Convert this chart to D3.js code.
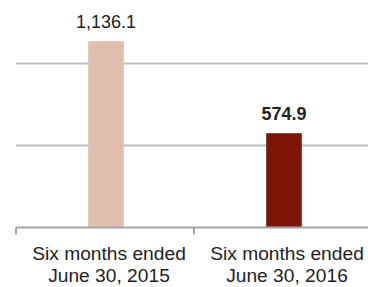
<!DOCTYPE html>
<html><head><meta charset="utf-8">
<script src="https://cdn.jsdelivr.net/npm/d3@7"></script>
<style>html,body{margin:0;padding:0;background:#fff;}svg{display:block;}</style>
</head><body>
<svg id="c" width="368" height="287"></svg>
<script>
const categories = ["Six months ended|June 30, 2015", "Six months ended|June 30, 2016"];
const values = [1136.1, 574.9];
const valueLabels = ["1,136.1", "574.9"];
const gridTicks = [500, 1000];
const colors = ["#e0bfaf", "#7b1607"];

const svg = d3.select("#c");
const x = d3.scaleBand().domain(categories).range([16, 372]).padding(0);
const y = d3.scaleLinear().domain([0, 1000]).range([227.5, 63.5]);
const barW = x.bandwidth() * 0.2;

svg.append("g").selectAll("line").data(gridTicks).join("line")
  .attr("x1", 16).attr("x2", 368)
  .attr("y1", d => y(d)).attr("y2", d => y(d))
  .attr("stroke", "#bfbec3").attr("stroke-width", 2);

svg.append("g").selectAll("rect").data(values).join("rect")
  .attr("x", (d, i) => x(categories[i]) + x.bandwidth() / 2 - barW / 2 + 1)
  .attr("width", barW)
  .attr("y", d => y(d))
  .attr("height", d => y(0) - y(d))
  .attr("fill", (d, i) => colors[i]);

// axis
const ax = svg.append("g");
ax.append("line").attr("x1", 16).attr("x2", 368).attr("y1", y(0)).attr("y2", y(0))
  .attr("stroke", "#a3a2a6").attr("stroke-width", 2);
ax.selectAll("line.t").data(categories).join("line").attr("class", "t")
  .attr("x1", d => x(d)).attr("x2", d => x(d))
  .attr("y1", y(0)).attr("y2", y(0) + 7)
  .attr("stroke", "#a3a2a6").attr("stroke-width", 2);

const lab = svg.append("g").selectAll("text").data(categories).join("text")
  .attr("text-anchor", "middle")
  .attr("font-family", "Liberation Sans, Arial, Helvetica, sans-serif")
  .attr("font-size", 19.2).attr("fill", "#222");
lab.each(function(d) {
  const parts = d.split("|");
  const t = d3.select(this);
  parts.forEach((p, k) => {
    t.append("tspan").attr("x", x(d) + x.bandwidth() / 2 + 4)
      .attr("y", 259.5 + k * 22.3).text(p);
  });
});

svg.append("g").selectAll("text").data(values).join("text")
  .attr("text-anchor", "middle")
  .attr("x", (d, i) => x(categories[i]) + x.bandwidth() / 2 + 1)
  .attr("y", d => y(d) - 13.5)
  .attr("font-family", "Liberation Sans, Arial, Helvetica, sans-serif")
  .attr("font-size", 18)
  .attr("font-weight", (d, i) => i === 1 ? "bold" : "normal")
  .attr("fill", "#222")
  .text((d, i) => valueLabels[i]);
</script>
</body></html>
